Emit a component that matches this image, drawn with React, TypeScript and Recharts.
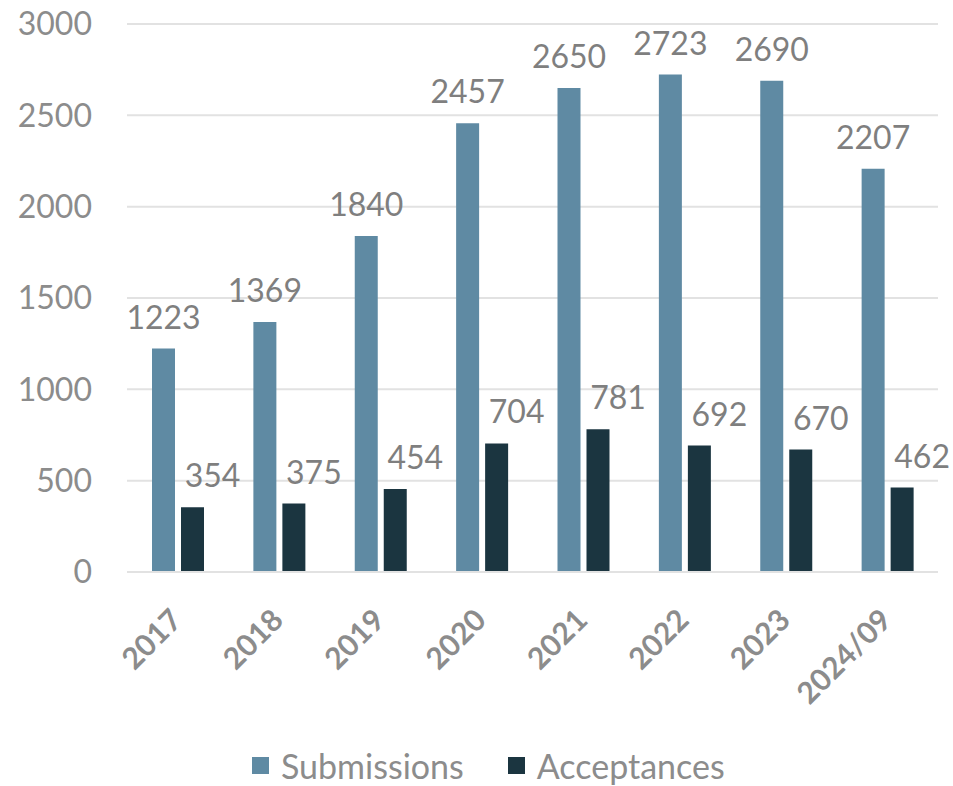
import React from 'react'
import {
  BarChart,
  Bar,
  XAxis,
  YAxis,
  CartesianGrid,
  Legend,
  LabelList,
} from 'recharts'

const years = ['2017', '2018', '2019', '2020', '2021', '2022', '2023', '2024/09']
const submissions = [1223, 1369, 1840, 2457, 2650, 2723, 2690, 2207]
const acceptances = [354, 375, 454, 704, 781, 692, 670, 462]
const yTicks = [0, 500, 1000, 1500, 2000, 2500, 3000]

const SUB_COLOR = '#5f8aa3'
const ACC_COLOR = '#1b3540'
const FONT = 'Lato, "Noto Sans", sans-serif'

const data = years.map((year, i) => ({
  year,
  submissions: submissions[i],
  acceptances: acceptances[i],
}))

function makeLabel(dx: number) {
  return (props: any) => {
    const { x, y, width, value } = props
    return (
      <text
        x={Number(x) + Number(width) / 2 + dx}
        y={Number(y) - 20}
        textAnchor="middle"
        fontFamily={FONT}
        fontSize={32}
        fill="#7f7f7f"
      >
        {value}
      </text>
    )
  }
}

function YearTick(props: any) {
  const { x, y, payload } = props
  return (
    <g transform={`translate(${x + 6},${y + 50}) rotate(-45)`}>
      <text
        textAnchor="end"
        fontFamily={FONT}
        fontSize={30}
        fontWeight={700}
        fill="#8c8c8c"
      >
        {payload.value}
      </text>
    </g>
  )
}

function LegendContent() {
  const items = [
    { name: 'Submissions', color: SUB_COLOR },
    { name: 'Acceptances', color: ACC_COLOR },
  ]
  return (
    <div
      style={{
        display: 'flex',
        alignItems: 'center',
        height: 64,
        paddingLeft: 252,
        paddingTop: 22,
        boxSizing: 'border-box',
        fontFamily: FONT,
        fontSize: 34,
        color: '#8c8c8c',
      }}
    >
      {items.map((it, i) => (
        <div
          key={it.name}
          style={{ display: 'flex', alignItems: 'center', marginRight: i === 0 ? 44 : 0 }}
        >
          <span
            style={{ width: 17, height: 17, background: it.color, display: 'inline-block', marginRight: 12 }}
          />
          <span>{it.name}</span>
        </div>
      ))}
    </div>
  )
}

export default function App() {
  return (
    <div style={{ position: 'absolute', top: 0, left: 0, width: 953, height: 786, background: '#fff' }}>
      <BarChart
        width={953}
        height={786}
        data={data}
        margin={{ top: 24, right: 15, left: 0, bottom: 0 }}
        barSize={23}
        barGap={6}
        style={{ overflow: 'visible' }}
      >
        <CartesianGrid vertical={false} stroke="#e2e2e2" strokeWidth={2} />
        <XAxis
          dataKey="year"
          height={150}
          axisLine={{ stroke: '#e2e2e2', strokeWidth: 2 }}
          tickLine={false}
          tickSize={0}
          tickMargin={0}
          interval={0}
          tick={<YearTick />}
        />
        <YAxis
          width={127}
          domain={[0, 3000]}
          ticks={yTicks}
          axisLine={false}
          tickLine={false}
          tickSize={0}
          tickMargin={35}
          tick={{ fontFamily: FONT, fontSize: 32, fill: '#8c8c8c' }}
        />
        <Legend verticalAlign="bottom" height={64} content={<LegendContent />} />
        <Bar dataKey="submissions" name="Submissions" fill={SUB_COLOR} isAnimationActive={false}>
          <LabelList dataKey="submissions" content={makeLabel(0)} />
        </Bar>
        <Bar dataKey="acceptances" name="Acceptances" fill={ACC_COLOR} isAnimationActive={false}>
          <LabelList dataKey="acceptances" content={makeLabel(20)} />
        </Bar>
      </BarChart>
    </div>
  )
}
